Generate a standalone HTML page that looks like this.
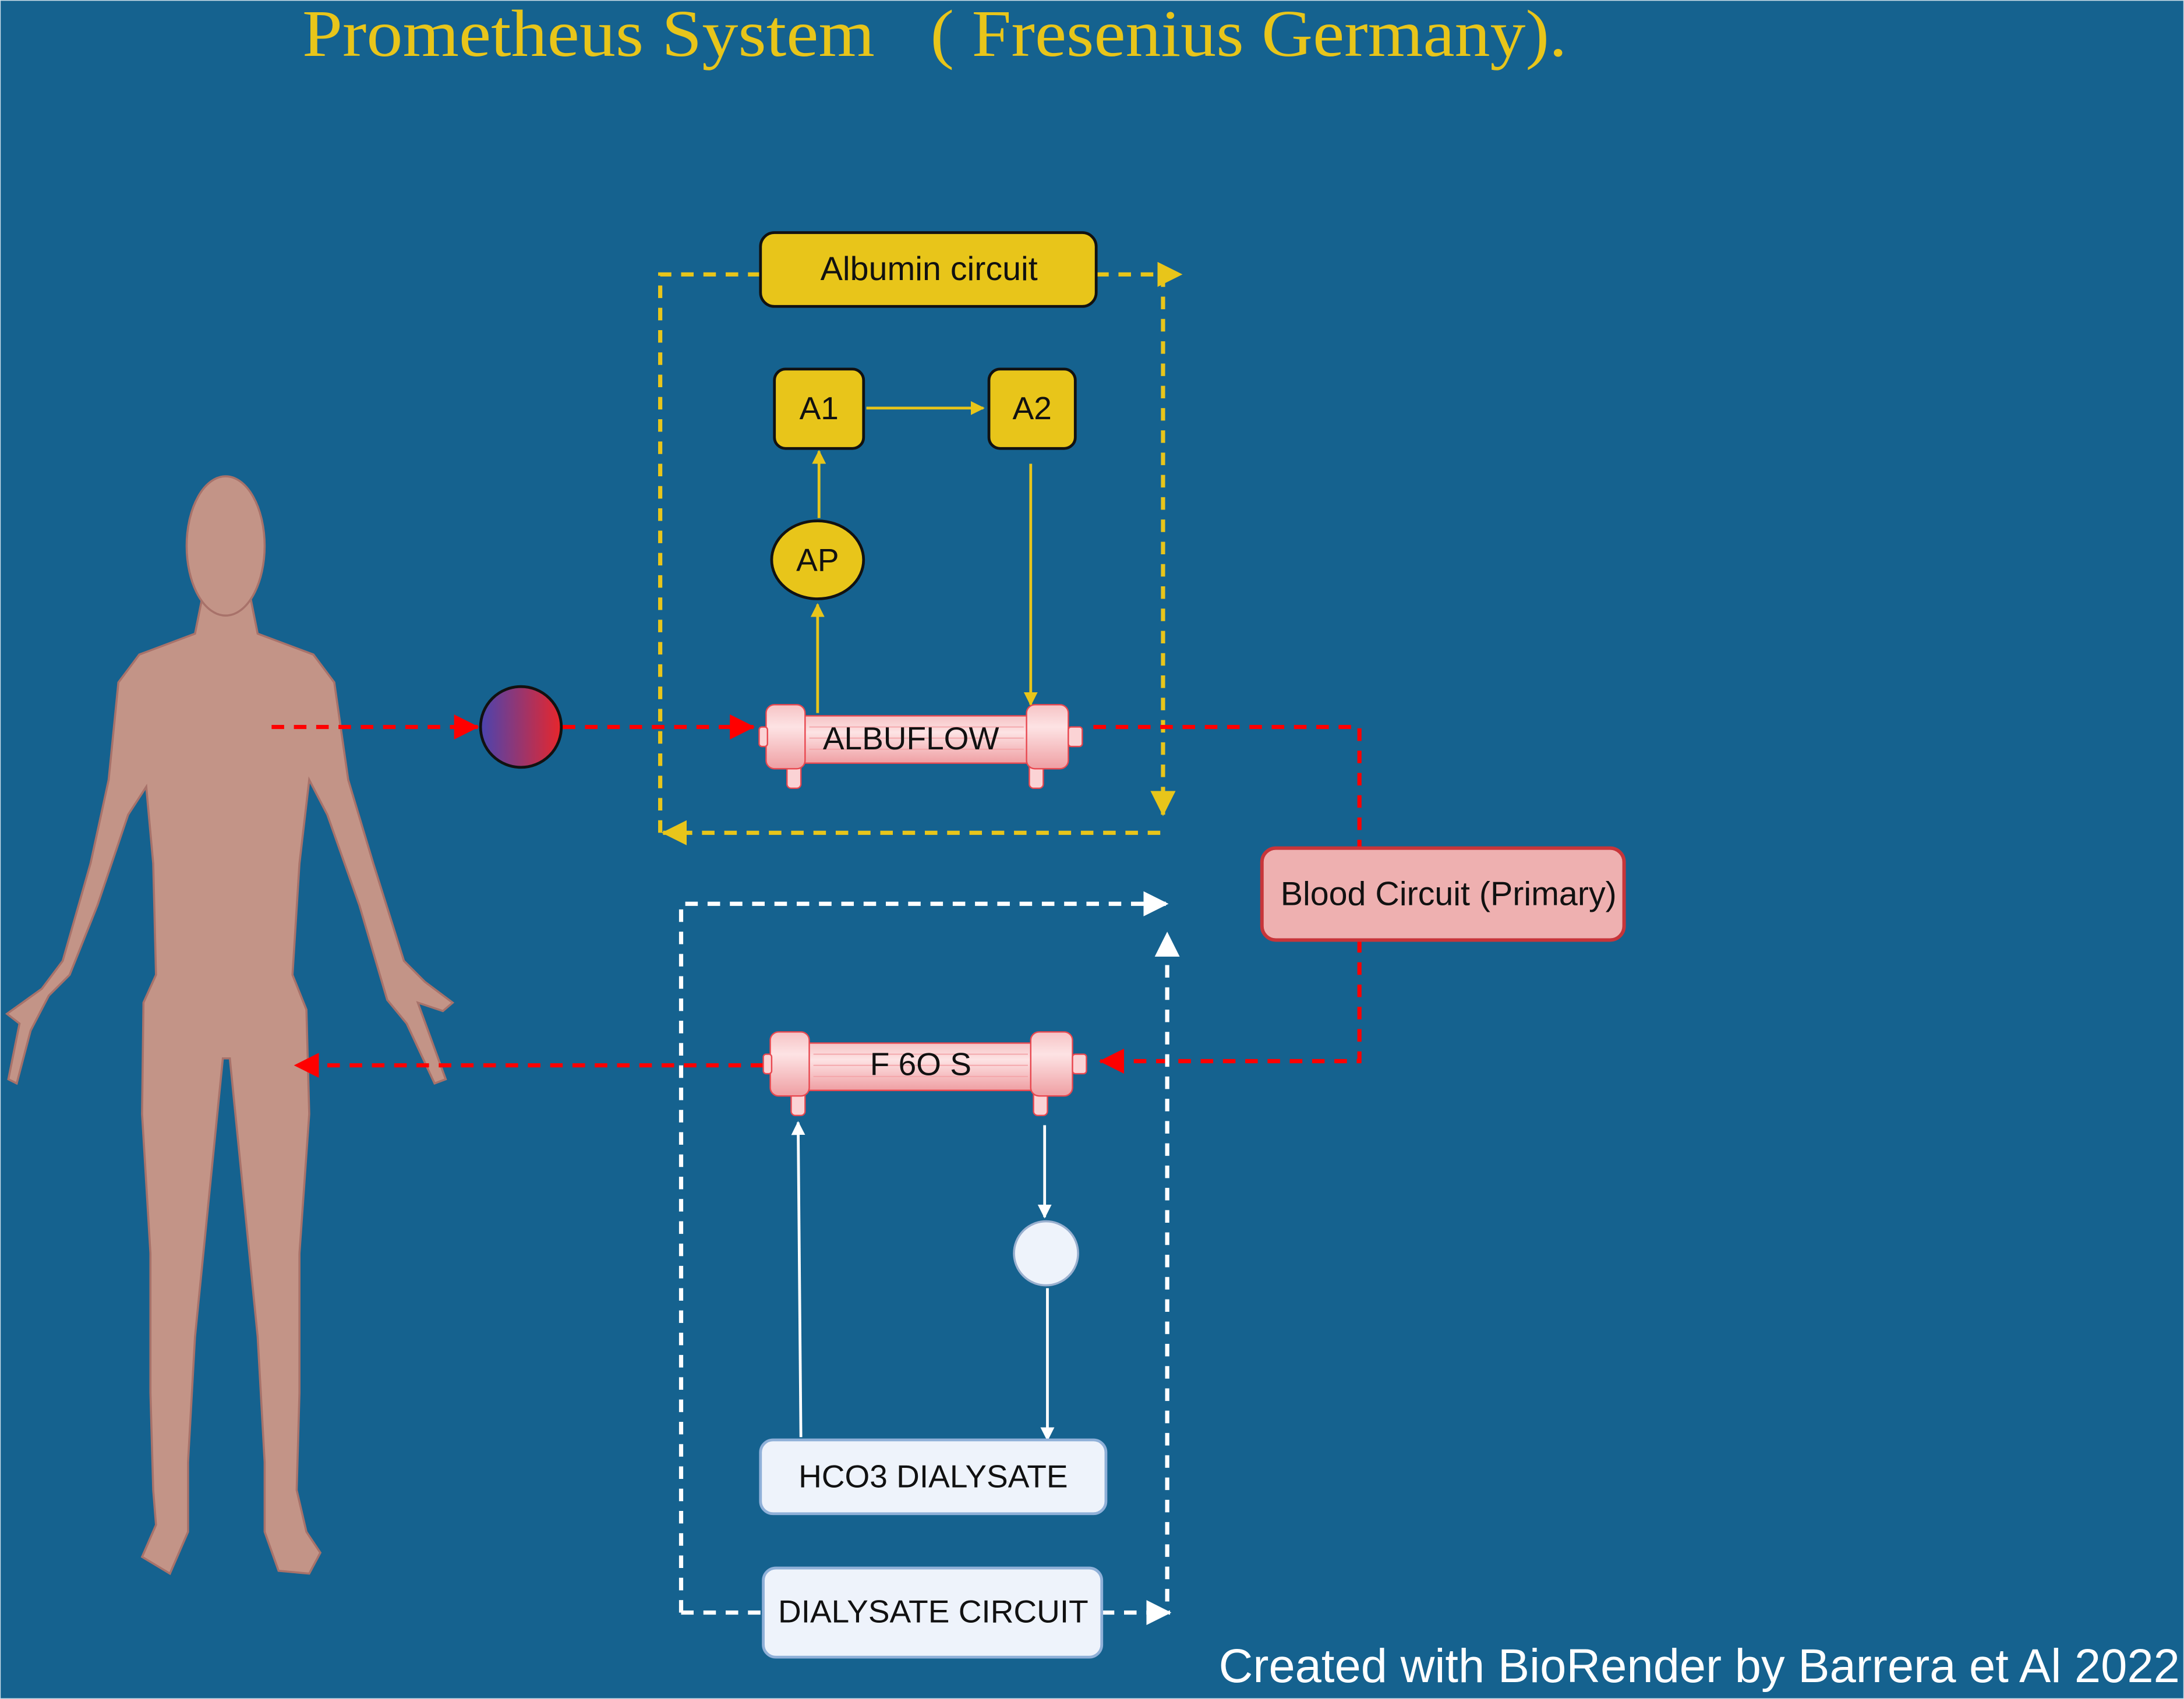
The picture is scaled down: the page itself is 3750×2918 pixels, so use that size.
<!DOCTYPE html>
<html><head><meta charset="utf-8"><style>
html,body{margin:0;padding:0;background:#15628f;}
svg{display:block}
</style></head><body>
<svg width="3750" height="2918" viewBox="0 0 1568 1220" xmlns="http://www.w3.org/2000/svg">
<defs>
<linearGradient id="g" x1="0" x2="1" y1="0" y2="0"><stop offset="0" stop-color="#4a44b0"/><stop offset="1" stop-color="#e8262b"/></linearGradient>
<linearGradient id="tube" x1="0" x2="0" y1="0" y2="1"><stop offset="0" stop-color="#f6c3c5"/><stop offset="0.35" stop-color="#fde3e4"/><stop offset="1" stop-color="#ef9fa3"/></linearGradient>
<marker id="ay" markerWidth="10" markerHeight="10" refX="9" refY="5" orient="auto" markerUnits="userSpaceOnUse"><path d="M0,0 L10,5 L0,10z" fill="#e8c51a"/></marker>
<marker id="ayb" markerWidth="18" markerHeight="18" refX="17" refY="9" orient="auto" markerUnits="userSpaceOnUse"><path d="M0,0 L18,9 L0,18z" fill="#e8c51a"/></marker>
<marker id="ar" markerWidth="18" markerHeight="18" refX="17" refY="9" orient="auto" markerUnits="userSpaceOnUse"><path d="M0,0 L18,9 L0,18z" fill="#f00"/></marker>
<marker id="aw" markerWidth="18" markerHeight="18" refX="17" refY="9" orient="auto" markerUnits="userSpaceOnUse"><path d="M0,0 L18,9 L0,18z" fill="#fff"/></marker>
<marker id="aws" markerWidth="10" markerHeight="10" refX="9" refY="5" orient="auto" markerUnits="userSpaceOnUse"><path d="M0,0 L10,5 L0,10z" fill="#fff"/></marker>
<g id="filt">
  <rect x="20" y="36" width="10" height="24" rx="3" fill="#fbd3d5" stroke="#e8474f" stroke-width="1"/>
  <rect x="194" y="36" width="10" height="24" rx="3" fill="#fbd3d5" stroke="#e8474f" stroke-width="1"/>
  <rect x="28" y="8" width="176" height="34" rx="4" fill="url(#tube)" stroke="#e8474f" stroke-width="1"/>
  <rect x="5" y="0" width="28" height="46" rx="6" fill="url(#tube)" stroke="#e8474f" stroke-width="1"/>
  <rect x="192" y="0" width="30" height="46" rx="6" fill="url(#tube)" stroke="#e8474f" stroke-width="1"/>
  <rect x="0" y="16" width="6" height="14" rx="2" fill="#fbd3d5" stroke="#e8474f" stroke-width="1"/>
  <rect x="222" y="16" width="10" height="14" rx="2" fill="#fbd3d5" stroke="#e8474f" stroke-width="1"/>
  <g stroke="#f3a5a9" stroke-width="0.8"><line x1="36" y1="16" x2="190" y2="16"/><line x1="36" y1="24" x2="190" y2="24"/><line x1="36" y1="32" x2="190" y2="32"/></g>
</g>
</defs>
<rect width="1568" height="1220" fill="#15628f" stroke="#cfe0ea" stroke-width="1"/>
<text x="217" y="40" font-family="Liberation Serif, serif" font-size="48" fill="#e8c51a" textLength="411" lengthAdjust="spacingAndGlyphs">Prometheus System</text>
<text x="668" y="40" font-family="Liberation Serif, serif" font-size="48" fill="#e8c51a" textLength="457" lengthAdjust="spacingAndGlyphs">( Fresenius Germany).</text>

<!-- human -->
<g fill="#c39487" stroke="#a8726a" stroke-width="1.5">
<path d="M145,430 L180,430 L185,455 L225,470 L240,490 L250,560 L268,620 L290,690 L305,705 L325,720 L318,726 L300,720 L320,775 L312,778 L292,735 L278,718 L258,650 L235,585 L222,560 L215,620 L210,700 L220,725 L222,800 L215,900 L215,1000 L213,1070 L220,1100 L230,1115 L222,1130 L200,1128 L190,1100 L190,1050 L185,960 L175,860 L165,760 L160,760 L150,860 L140,960 L135,1050 L135,1100 L122,1130 L102,1118 L112,1095 L110,1070 L108,1000 L108,900 L102,800 L103,720 L112,700 L110,620 L105,565 L92,585 L70,650 L50,700 L35,715 L22,740 L12,778 L6,775 L14,735 L5,728 L30,710 L45,690 L65,620 L78,560 L85,490 L100,470 L140,455 Z"/>
<ellipse cx="162" cy="392" rx="28" ry="50"/>
</g>

<!-- yellow dashed albumin loop -->
<g fill="none" stroke="#e8c51a" stroke-width="3" stroke-dasharray="9,7">
<path d="M546,197 L474,197 L474,598"/>
<path d="M833,598 L476,598" marker-end="url(#ayb)"/>
<path d="M787,197 L848,197" marker-end="url(#ayb)"/>
<path d="M835,197 L835,585" marker-end="url(#ayb)"/>
</g>
<rect x="546" y="167" width="241" height="53" rx="10" fill="#e8c51a" stroke="#111" stroke-width="2"/>
<text x="667" y="201" text-anchor="middle" font-family="Liberation Sans, sans-serif" font-size="24" fill="#111">Albumin circuit</text>

<g stroke="#e8c51a" stroke-width="2" fill="none">
<line x1="622" y1="293" x2="706" y2="293" marker-end="url(#ay)"/>
<line x1="588" y1="372" x2="588" y2="324" marker-end="url(#ay)"/>
<line x1="587" y1="512" x2="587" y2="434" marker-end="url(#ay)"/>
<line x1="740" y1="333" x2="740" y2="506" marker-end="url(#ay)"/>
</g>
<rect x="556" y="265" width="64" height="57" rx="8" fill="#e8c51a" stroke="#111" stroke-width="2"/>
<text x="588" y="301" text-anchor="middle" font-family="Liberation Sans, sans-serif" font-size="23" fill="#111">A1</text>
<rect x="710" y="265" width="62" height="57" rx="8" fill="#e8c51a" stroke="#111" stroke-width="2"/>
<text x="741" y="301" text-anchor="middle" font-family="Liberation Sans, sans-serif" font-size="23" fill="#111">A2</text>
<ellipse cx="587" cy="402" rx="33" ry="28" fill="#e8c51a" stroke="#111" stroke-width="2"/>
<text x="587" y="410" text-anchor="middle" font-family="Liberation Sans, sans-serif" font-size="23" fill="#111">AP</text>

<!-- red dashed blood -->
<g fill="none" stroke="#f00" stroke-width="3" stroke-dasharray="9,7">
<path d="M195,522 L343,522" marker-end="url(#ar)"/>
<path d="M404,522 L541,522" marker-end="url(#ar)"/>
<path d="M785,522 L976,522 L976,610"/>
<path d="M976,675 L976,762 L790,762" marker-end="url(#ar)"/>
<path d="M548,765 L212,765" marker-end="url(#ar)"/>
</g>
<circle cx="374" cy="522" r="29" fill="url(#g)" stroke="#111" stroke-width="2"/>

<use href="#filt" transform="translate(545,506)"/>
<text x="654" y="538" text-anchor="middle" font-family="Liberation Sans, sans-serif" font-size="23" fill="#111">ALBUFLOW</text>

<rect x="906" y="609" width="260" height="66" rx="10" fill="#eeb0b0" stroke="#c7353a" stroke-width="2.5"/>
<text x="1040" y="650" text-anchor="middle" font-family="Liberation Sans, sans-serif" font-size="24" fill="#111">Blood Circuit (Primary)</text>

<!-- white dashed -->
<g fill="none" stroke="#fff" stroke-width="3" stroke-dasharray="9,7">
<path d="M489,1158 L489,649 L838,649" marker-end="url(#aw)"/>
<path d="M489,1158 L548,1158"/>
<path d="M791,1158 L840,1158" marker-end="url(#aw)"/>
<path d="M838,1150 L838,670" marker-end="url(#aw)"/>
</g>
<use href="#filt" transform="translate(548,741)"/>
<text x="661" y="772" text-anchor="middle" font-family="Liberation Sans, sans-serif" font-size="23" fill="#111">F 6O S</text>

<g stroke="#fff" stroke-width="2" fill="none">
<line x1="575" y1="1032" x2="573" y2="806" marker-end="url(#aws)"/>
<line x1="750" y1="808" x2="750" y2="874" marker-end="url(#aws)"/>
<line x1="752" y1="925" x2="752" y2="1034" marker-end="url(#aws)"/>
</g>
<circle cx="751" cy="900" r="23" fill="#eef3fb" stroke="#9ab0cf" stroke-width="1.5"/>
<rect x="546" y="1034" width="248" height="53" rx="9" fill="#eef3fb" stroke="#8fb0d8" stroke-width="2"/>
<text x="670" y="1068" text-anchor="middle" font-family="Liberation Sans, sans-serif" font-size="23" fill="#111">HCO3 DIALYSATE</text>
<rect x="548" y="1126" width="243" height="64" rx="9" fill="#eef3fb" stroke="#8fb0d8" stroke-width="2"/>
<text x="670" y="1165" text-anchor="middle" font-family="Liberation Sans, sans-serif" font-size="23" fill="#111">DIALYSATE CIRCUIT</text>

<text x="875" y="1208" font-family="Liberation Sans, sans-serif" font-size="34" fill="#fff" textLength="690" lengthAdjust="spacingAndGlyphs">Created with BioRender by Barrera et Al 2022</text>
</svg>
</body></html>
